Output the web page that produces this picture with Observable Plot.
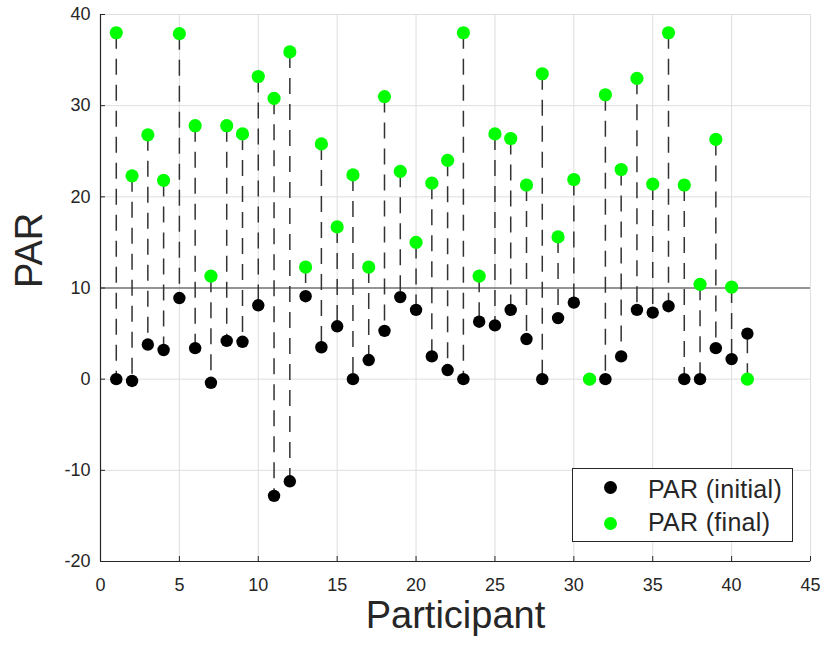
<!DOCTYPE html>
<html>
<head>
<meta charset="utf-8">
<script src="https://cdn.jsdelivr.net/npm/d3@7"></script>
<script src="https://cdn.jsdelivr.net/npm/@observablehq/plot@0.6"></script>
<style>
  body { margin: 0; background: #fff; }
  #wrap { position: relative; width: 825px; height: 648px; font-family: "Liberation Sans", Arial, sans-serif; color: #262626; }
  #legend { position: absolute; left: 572px; top: 468px; width: 221px; height: 74px; border: 1px solid #262626; background: #fff; box-sizing: border-box; }
  .ldot { position: absolute; width: 13px; height: 13px; border-radius: 50%; }
  .ltext { position: absolute; font-size: 25px; line-height: 25px; white-space: nowrap; color: #262626; letter-spacing: 0.3px; }
</style>
</head>
<body>
<div id="wrap"></div>
<script>
const participants = [1,2,3,4,5,6,7,8,9,10,11,12,13,14,15,16,17,18,19,20,21,22,23,24,25,26,27,28,29,30,31,32,33,34,35,36,37,38,39,40,41];
const initialPAR = [0,-0.2,3.8,3.2,8.9,3.4,-0.4,4.2,4.1,8.1,-12.8,-11.2,9.1,3.5,5.8,0,2.1,5.3,9.0,7.6,2.5,1.0,0,6.3,5.9,7.6,4.4,0,6.7,8.4,0,0,2.5,7.6,7.3,8.0,0,0,3.4,2.2,5.0];
const finalPAR = [38.0,22.3,26.8,21.8,37.9,27.8,11.3,27.8,26.9,33.2,30.8,35.9,12.3,25.8,16.7,22.4,12.3,31.0,22.8,15.0,21.5,24.0,38.0,11.3,26.9,26.4,21.3,33.5,15.6,21.9,0,31.2,23.0,33.0,21.4,38.0,21.3,10.4,26.3,10.1,0];
const xTicks = [0,5,10,15,20,25,30,35,40,45];
const yTicks = [-20,-10,0,10,20,30,40];
const threshold = [10];
const legendLabels = ["PAR (initial)", "PAR (final)"];
const legendColors = ["#000000", "#00ff00"];

const data = participants.map((p, i) => ({p, a: initialPAR[i], b: finalPAR[i]}));
const gridColor = "#dedede";
const axisColor = "#262626";
const fmt = d => String(d);

const chart = Plot.plot({
  width: 825,
  height: 648,
  marginLeft: 100,
  marginRight: 15,
  marginTop: 14,
  marginBottom: 87,
  x: {domain: [0, 45]},
  y: {domain: [-20, 40]},
  style: {fontFamily: "'Liberation Sans', Arial, sans-serif", color: axisColor, background: "#fff", overflow: "visible"},
  marks: [
    Plot.gridX(xTicks, {stroke: gridColor, strokeOpacity: 1}),
    Plot.gridY(yTicks, {stroke: gridColor, strokeOpacity: 1}),
    Plot.frame({stroke: gridColor}),
    Plot.ruleX([xTicks[0]], {stroke: axisColor, strokeWidth: 1.2}),
    Plot.ruleY([yTicks[0]], {stroke: axisColor, strokeWidth: 1.2}),
    Plot.axisY(yTicks, {tickSize: 0, tickPadding: 10, fontSize: 18, label: null, tickFormat: fmt}),
    Plot.axisY(yTicks, {tickSize: -5, text: null, label: null, stroke: axisColor}),
    Plot.axisX(xTicks, {tickSize: 0, tickPadding: 17, fontSize: 18, label: null, tickFormat: fmt}),
    Plot.axisX(xTicks, {tickSize: -5, text: null, label: null, stroke: axisColor}),
    Plot.ruleY(threshold, {stroke: "#3a3a3a", strokeWidth: 1.2}),
    Plot.link(data, {x1: "p", x2: "p", y1: "b", y2: "a", stroke: "#333", strokeWidth: 1.5, strokeDasharray: "16,10"}),
    Plot.dot(data, {x: "p", y: "a", r: 6.2, fill: legendColors[0], stroke: "none"}),
    Plot.dot(data, {x: "p", y: "b", r: 6.6, fill: legendColors[1], stroke: "none"}),
    Plot.text(["PAR"], {frameAnchor: "left", rotate: -90, dx: -71, fontSize: 38, fill: axisColor}),
    Plot.text(["Participant"], {frameAnchor: "bottom", dy: 66, fontSize: 38, fill: axisColor})
  ]
});

const wrap = document.getElementById("wrap");
wrap.appendChild(chart);

const legend = document.createElement("div");
legend.id = "legend";
wrap.appendChild(legend);
const dotTops = [481, 517];
const textTops = [477, 510];
legendLabels.forEach((lab, i) => {
  const d = document.createElement("div");
  d.className = "ldot";
  d.style.left = "604px";
  d.style.top = dotTops[i] + "px";
  d.style.background = legendColors[i];
  wrap.appendChild(d);
  const t = document.createElement("div");
  t.className = "ltext";
  t.style.left = "648px";
  t.style.top = textTops[i] + "px";
  t.textContent = lab;
  wrap.appendChild(t);
});
</script>
</body>
</html>
